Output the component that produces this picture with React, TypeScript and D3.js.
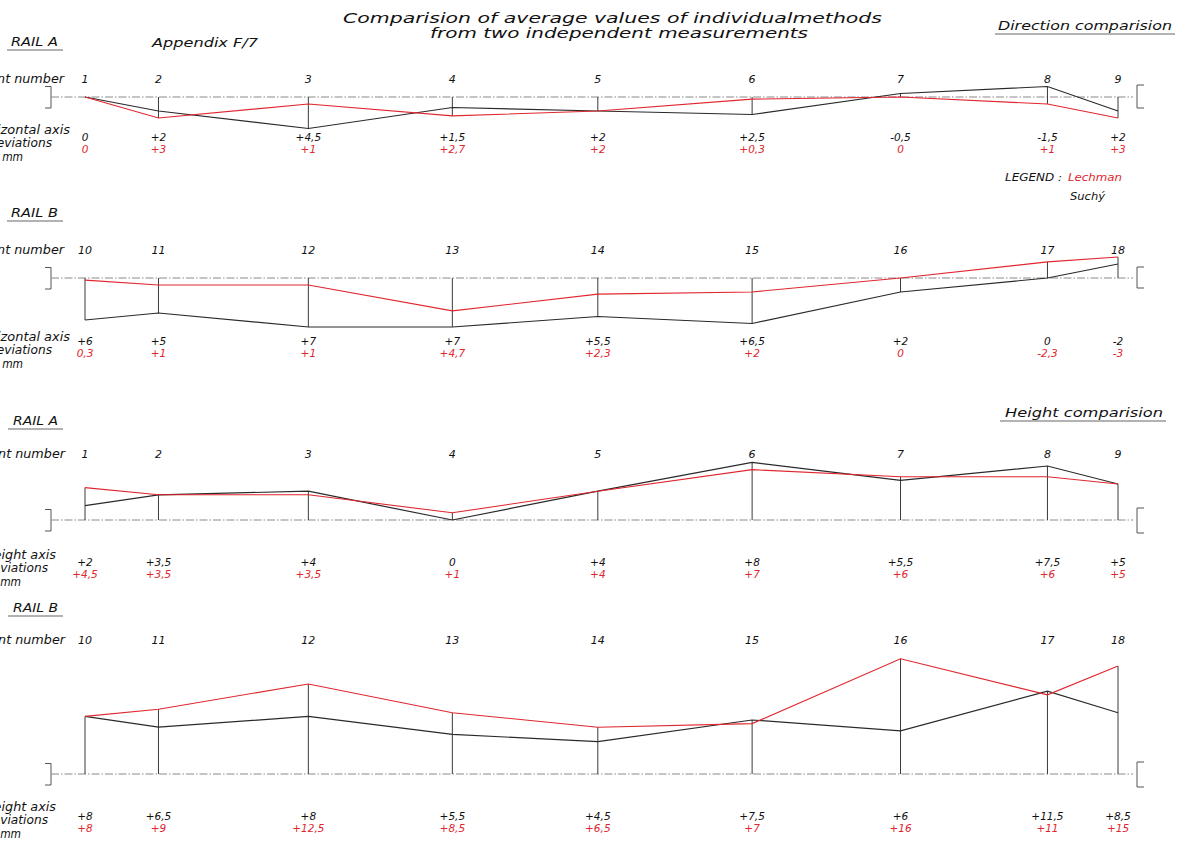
import React from "react";
import * as d3 from "d3";

// ---------- data ----------
const pointsRailA = ["1", "2", "3", "4", "5", "6", "7", "8", "9"];
const pointsRailB = ["10", "11", "12", "13", "14", "15", "16", "17", "18"];
// chainage of the points along the track (m)
const stations = [0, 5, 15.2, 25, 34.9, 45.4, 55.5, 65.5, 70.3];

// Direction comparison (horizontal axis deviations, mm)
const dirALechman = [0, 3, 1, 2.7, 2, 0.3, 0, 1, 3];
const dirASuchy = [0, 2, 4.5, 1.5, 2, 2.5, -0.5, -1.5, 2];
const dirBLechman = [0.3, 1, 1, 4.7, 2.3, 2, 0, -2.3, -3];
const dirBSuchy = [6, 5, 7, 7, 5.5, 6.5, 2, 0, -2];

// Height comparison (height axis deviations, mm)
const hALechman = [4.5, 3.5, 3.5, 1, 4, 7, 6, 6, 5];
const hASuchy = [2, 3.5, 4, 0, 4, 8, 5.5, 7.5, 5];
const hBLechman = [8, 9, 12.5, 8.5, 6.5, 7, 16, 11, 15];
const hBSuchy = [8, 6.5, 8, 5.5, 4.5, 7.5, 6, 11.5, 8.5];

// value labels as printed
const dirALechmanLbl = ["0", "+3", "+1", "+2,7", "+2", "+0,3", "0", "+1", "+3"];
const dirASuchyLbl = ["0", "+2", "+4,5", "+1,5", "+2", "+2,5", "-0,5", "-1,5", "+2"];
const dirBLechmanLbl = ["0,3", "+1", "+1", "+4,7", "+2,3", "+2", "0", "-2,3", "-3"];
const dirBSuchyLbl = ["+6", "+5", "+7", "+7", "+5,5", "+6,5", "+2", "0", "-2"];
const hALechmanLbl = ["+4,5", "+3,5", "+3,5", "+1", "+4", "+7", "+6", "+6", "+5"];
const hASuchyLbl = ["+2", "+3,5", "+4", "0", "+4", "+8", "+5,5", "+7,5", "+5"];
const hBLechmanLbl = ["+8", "+9", "+12,5", "+8,5", "+6,5", "+7", "+16", "+11", "+15"];
const hBSuchyLbl = ["+8", "+6,5", "+8", "+5,5", "+4,5", "+7,5", "+6", "+11,5", "+8,5"];

const RED = "#e0262e";
const BLACK = "#2a2a2a";
const FONT = "'DejaVu Sans', 'Open Sans', sans-serif";

const x = d3.scaleLinear().domain([0, 70.3]).range([85, 1118]);

type LeftText = { text: string; x0: number; len: number; y: number };

type PanelProps = {
  base: number;
  pxPerMm: number; // positive = downwards
  points: string[];
  red: number[];
  black: number[];
  redLbl: string[];
  blackLbl: string[];
  numY: number;
  lblY: number;
  left: LeftText[];
  rightBr: [number, number];
};

const ital = { fontFamily: FONT, fontStyle: "italic" as const };

function Panel(p: PanelProps) {
  const y = d3.scaleLinear().domain([0, 1]).range([p.base, p.base + p.pxPerMm]);
  const line = d3
    .line<number>()
    .x((_, i) => x(stations[i]))
    .y((v) => y(v));
  const leftStyle = { ...ital, fontSize: 11.5 };
  const numStyle = { ...ital, fontSize: 11 };
  const valStyle = { ...ital, fontSize: 10.5 };
  return (
    <g>
      {/* left labels */}
      {p.left.map((t, i) => (
        <text
          key={"t" + i}
          x={t.x0}
          y={t.y + 4}
          fill="#111"
          textLength={t.len}
          lengthAdjust="spacingAndGlyphs"
          style={leftStyle}
        >
          {t.text}
        </text>
      ))}
      {/* brackets */}
      <path
        d={`M45,${p.base - 10.5}H51V${p.base + 11}H45`}
        fill="none"
        stroke="#555"
        strokeWidth={1}
      />
      <path
        d={`M1144,${p.base + p.rightBr[0]}H1137V${p.base + p.rightBr[1]}H1144`}
        fill="none"
        stroke="#555"
        strokeWidth={1}
      />
      {/* baseline */}
      <line
        x1={51}
        x2={1133}
        y1={p.base}
        y2={p.base}
        stroke="#8a8a8a"
        strokeWidth={1}
        strokeDasharray="8,2,1.5,2"
      />
      {/* verticals */}
      {p.red.map((r, i) => {
        const b = p.black[i];
        const lo = Math.min(0, r, b);
        const hi = Math.max(0, r, b);
        if (lo === hi) return null;
        return (
          <line
            key={"v" + i}
            x1={x(stations[i])}
            x2={x(stations[i])}
            y1={y(lo)}
            y2={y(hi)}
            stroke="#3a3a3a"
            strokeWidth={1}
          />
        );
      })}
      {/* series */}
      <path d={line(p.black) || ""} fill="none" stroke={BLACK} strokeWidth={1.2} />
      <path d={line(p.red) || ""} fill="none" stroke={RED} strokeWidth={1.1} />
      {/* point numbers and value labels */}
      {p.points.map((n, i) => (
        <g key={"l" + i}>
          <text x={x(stations[i])} y={p.numY + 4} textAnchor="middle" fill="#111" style={numStyle}>
            {n}
          </text>
          <text x={x(stations[i])} y={p.lblY + 4} textAnchor="middle" fill="#111" style={valStyle}>
            {p.blackLbl[i]}
          </text>
          <text x={x(stations[i])} y={p.lblY + 16} textAnchor="middle" fill={RED} style={valStyle}>
            {p.redLbl[i]}
          </text>
        </g>
      ))}
    </g>
  );
}

function Heading(props: {
  x: number;
  y: number;
  text: string;
  ux1: number;
  ux2: number;
  uy: number;
  size?: number;
  len?: number;
}) {
  return (
    <g>
      <text
        x={props.x}
        y={props.y}
        fill="#111"
        textLength={props.len}
        lengthAdjust="spacingAndGlyphs"
        style={{ ...ital, fontSize: props.size || 12 }}
      >
        {props.text}
      </text>
      <line x1={props.ux1} x2={props.ux2} y1={props.uy} y2={props.uy} stroke="#666" strokeWidth={1.2} />
    </g>
  );
}

const leftDir = (n: number, a: number, d: number, m: number): LeftText[] => [
  { text: "Point number", x0: -22, len: 86, y: n },
  { text: "Horizontal axis", x0: -26, len: 96, y: a },
  { text: "deviations", x0: -11, len: 63, y: d },
  { text: "in mm", x0: -11, len: 34, y: m },
];
const leftHeight = (n: number, a: number, d: number, m: number): LeftText[] => [
  { text: "Point number", x0: -21, len: 86, y: n },
  { text: "Height axis", x0: -16, len: 72, y: a },
  { text: "deviations", x0: -15, len: 63, y: d },
  { text: "in mm", x0: -13, len: 34, y: m },
];

export default function App() {
  return (
    <svg
      width={1182}
      height={842}
      style={{ position: "absolute", left: 0, top: 0, background: "#fff" }}
    >
      {/* title */}
      <text
        x={343}
        y={23}
        fill="#111"
        textLength={539}
        lengthAdjust="spacingAndGlyphs"
        style={{ ...ital, fontSize: 14.5 }}
      >
        Comparision of average values of individualmethods
      </text>
      <text
        x={430}
        y={38}
        fill="#111"
        textLength={378}
        lengthAdjust="spacingAndGlyphs"
        style={{ ...ital, fontSize: 14.5 }}
      >
        from two independent measurements
      </text>
      <text
        x={152}
        y={47}
        fill="#111"
        textLength={106}
        lengthAdjust="spacingAndGlyphs"
        style={{ ...ital, fontSize: 13 }}
      >
        Appendix F/7
      </text>

      <Heading x={998} y={30} text="Direction comparision" ux1={995} ux2={1175} uy={34} size={13} len={174} />
      <Heading x={1005} y={417} text="Height comparision" ux1={1000} ux2={1166} uy={421} size={13} len={158} />
      <Heading x={11} y={46} text="RAIL A" ux1={7} ux2={63} uy={50} len={47} />
      <Heading x={11} y={217} text="RAIL B" ux1={7} ux2={63} uy={221} len={47} />
      <Heading x={13} y={425} text="RAIL A" ux1={8} ux2={63} uy={429} len={45} />
      <Heading x={13} y={612} text="RAIL B" ux1={8} ux2={63} uy={616} len={45} />

      {/* legend */}
      <text
        x={1005}
        y={181}
        fill="#111"
        textLength={57}
        lengthAdjust="spacingAndGlyphs"
        style={{ ...ital, fontSize: 10 }}
      >
        LEGEND :
      </text>
      <text
        x={1068}
        y={181}
        fill={RED}
        textLength={54}
        lengthAdjust="spacingAndGlyphs"
        style={{ ...ital, fontSize: 11 }}
      >
        Lechman
      </text>
      <text
        x={1070}
        y={200}
        fill="#111"
        textLength={35}
        lengthAdjust="spacingAndGlyphs"
        style={{ ...ital, fontSize: 11 }}
      >
        Suchý
      </text>

      <Panel
        base={97}
        pxPerMm={7}
        points={pointsRailA}
        red={dirALechman}
        black={dirASuchy}
        redLbl={dirALechmanLbl}
        blackLbl={dirASuchyLbl}
        numY={79}
        lblY={137}
        left={leftDir(79, 130, 143, 157)}
        rightBr={[-12, 11]}
      />
      <Panel
        base={278}
        pxPerMm={7}
        points={pointsRailB}
        red={dirBLechman}
        black={dirBSuchy}
        redLbl={dirBLechmanLbl}
        blackLbl={dirBSuchyLbl}
        numY={250}
        lblY={341}
        left={leftDir(250, 337, 350, 364)}
        rightBr={[-11, 10]}
      />
      <Panel
        base={520}
        pxPerMm={-7.2}
        points={pointsRailA}
        red={hALechman}
        black={hASuchy}
        redLbl={hALechmanLbl}
        blackLbl={hASuchyLbl}
        numY={454}
        lblY={562}
        left={leftHeight(454, 555, 568, 582)}
        rightBr={[-12, 13]}
      />
      <Panel
        base={774}
        pxPerMm={-7.2}
        points={pointsRailB}
        red={hBLechman}
        black={hBSuchy}
        redLbl={hBLechmanLbl}
        blackLbl={hBSuchyLbl}
        numY={640}
        lblY={816}
        left={leftHeight(640, 807, 820, 834)}
        rightBr={[-12, 13]}
      />
    </svg>
  );
}
